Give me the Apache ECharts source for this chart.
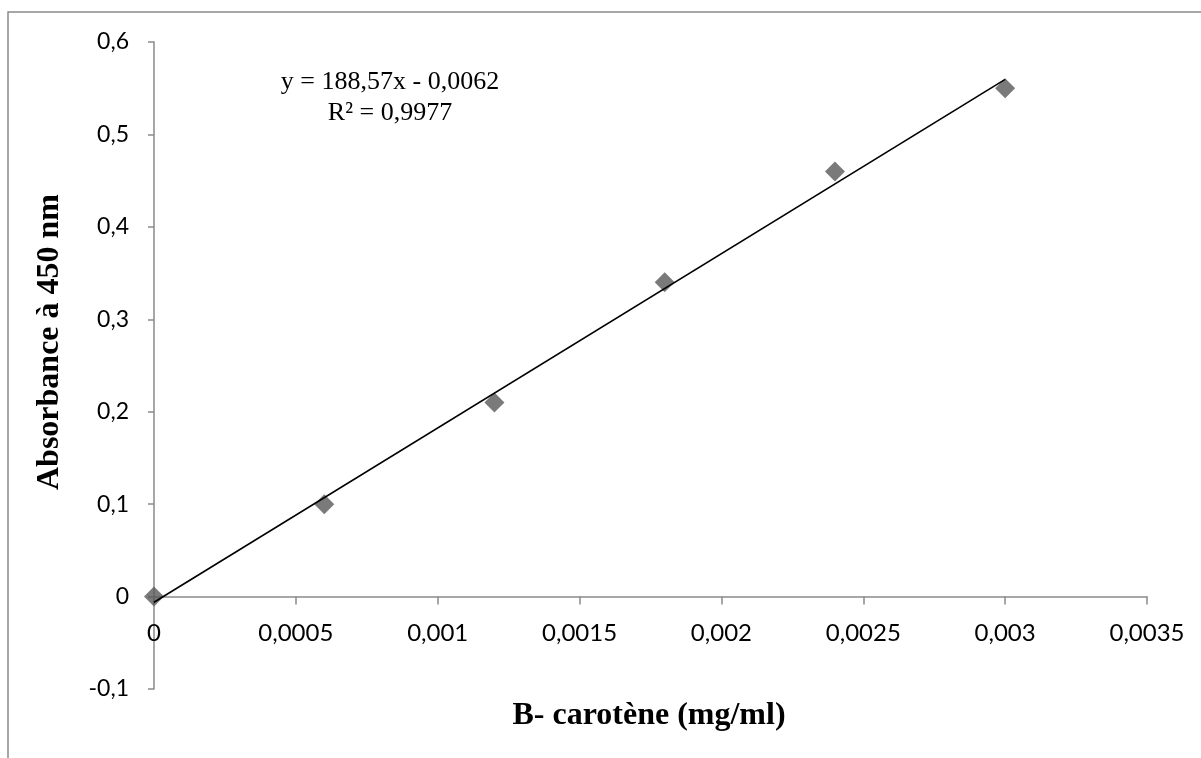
<!DOCTYPE html>
<html>
<head>
<meta charset="utf-8">
<script src="https://cdn.jsdelivr.net/npm/echarts@6/dist/echarts.min.js"></script>
<style>
html,body{margin:0;padding:0;background:#fff;}
#chart{width:1201px;height:758px;}
</style>
</head>
<body>
<div id="chart"></div>
<script>
// Data
var concentrations = [0, 0.0006, 0.0012, 0.0018, 0.0024, 0.003];
var absorbances = [0, 0.10, 0.21, 0.34, 0.46, 0.55];
var trendSlope = 188.57;
var trendIntercept = -0.0062;
var trendRange = [0, 0.003];
var equationLines = ['y = 188,57x - 0,0062', 'R² = 0,9977'];
var xTitle = 'B- carotène (mg/ml)';
var yTitle = 'Absorbance à 450 nm';

var points = concentrations.map(function (c, i) { return [c, absorbances[i]]; });
var trend = trendRange.map(function (x) { return [x, trendSlope * x + trendIntercept]; });

function fmt(v) {
  return String(+(+v).toFixed(4)).replace('.', ',');
}

var chart = echarts.init(document.getElementById('chart'), null, {renderer: 'canvas'});
var axisColor = '#8a8a8a';
chart.setOption({
  animation: false,
  backgroundColor: '#ffffff',
  grid: {left: 154, right: 54, top: 42, bottom: 69, containLabel: false},
  xAxis: {
    type: 'value', min: 0, max: 0.0035, interval: 0.0005,
    axisLine: {show: true, onZero: true, lineStyle: {color: axisColor, width: 1.5}},
    axisTick: {show: true, inside: false, length: 8, lineStyle: {color: axisColor, width: 1.5}},
    splitLine: {show: false},
    axisLabel: {formatter: fmt, margin: -68, color: '#000', fontFamily: 'Lato', fontSize: 24}
  },
  yAxis: {
    type: 'value', min: -0.1, max: 0.6, interval: 0.1,
    axisLine: {show: true, onZero: false, lineStyle: {color: axisColor, width: 1.5}},
    axisTick: {show: true, length: 6, lineStyle: {color: axisColor, width: 1.5}},
    splitLine: {show: false},
    axisLabel: {formatter: fmt, margin: 25, color: '#000', fontFamily: 'Lato', fontSize: 23}
  },
  series: [
    {
      type: 'scatter', data: points, symbol: 'diamond', symbolSize: 20,
      itemStyle: {color: '#595959'}, z: 2
    },
    {
      type: 'line', data: trend, symbol: 'none', showSymbol: false,
      lineStyle: {color: '#000', width: 1.6}, z: 3, silent: true
    }
  ],
  graphic: [
    {
      type: 'polyline', silent: true,
      shape: {points: [[8, 758], [8, 12], [1201, 12]]},
      style: {stroke: '#8a8a8a', lineWidth: 1.5, fill: null}
    },
    {
      type: 'text', x: 390, y: 82, silent: true,
      style: {text: equationLines[0], fontFamily: 'Liberation Serif', fontSize: 26, fill: '#000', textAlign: 'center', textVerticalAlign: 'middle'}
    },
    {
      type: 'text', x: 390, y: 113, silent: true,
      style: {text: equationLines[1], fontFamily: 'Liberation Serif', fontSize: 26, fill: '#000', textAlign: 'center', textVerticalAlign: 'middle'}
    },
    {
      type: 'text', x: 649, y: 716, silent: true,
      style: {text: xTitle, fontFamily: 'Liberation Serif', fontWeight: 'bold', fontSize: 32, fill: '#000', textAlign: 'center', textVerticalAlign: 'middle'}
    },
    {
      type: 'text', x: 50, y: 342, rotation: Math.PI / 2, silent: true,
      style: {text: yTitle, fontFamily: 'Liberation Serif', fontWeight: 'bold', fontSize: 32, fill: '#000', textAlign: 'center', textVerticalAlign: 'middle'}
    }
  ]
});
</script>
</body>
</html>
